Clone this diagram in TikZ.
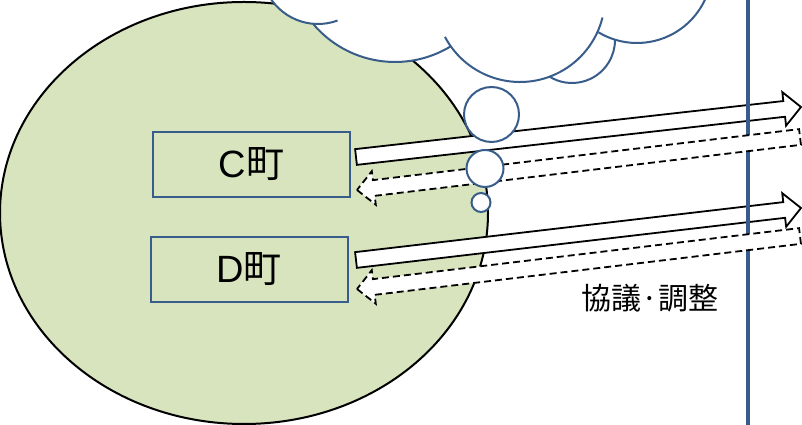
\documentclass[tikz,border=0pt]{standalone}
\usepackage{fontspec}
\setmainfont{Liberation Sans}
\newfontfamily\jpfont{Noto Sans CJK JP}
\usetikzlibrary{shapes.arrows,calc}

\definecolor{areagreen}{RGB}{215,228,189}
\definecolor{lineblue}{RGB}{56,93,138}

\newcommand{\blockarrow}[3][]{%
  \path let \p1=(#2), \p2=(#3), \n1={atan2(\y2-\y1,\x2-\x1)}, \n2={veclen(\x2-\x1,\y2-\y1)} in
    node [flow, #1, minimum height=\n2, rotate=\n1] at (\p1) {};}

\begin{document}
\begin{tikzpicture}[x=1pt, y=1pt,
  town/.style={draw=lineblue, line width=2pt, fill=areagreen, minimum width=197pt, minimum height=65pt, inner sep=0pt, font=\fontsize{38}{40}\selectfont},
  flow/.style={single arrow, draw=black, line width=1.8pt, fill=white, inner xsep=0pt, inner ysep=7pt, outer sep=0pt, single arrow head extend=9pt, single arrow tip angle=90, anchor=tail},
  reply/.style={dash pattern=on 7pt off 4pt},
  puff/.style={draw=lineblue, line width=2pt},
  bubble/.style={draw=lineblue, line width=2pt, fill=white}]
  \useasboundingbox (0,0) rectangle (802,425);
  \clip (0,0) rectangle (802,425);
  \filldraw [fill=areagreen, draw=black, line width=2pt] (244,212) ellipse [x radius=244, y radius=211];
  \node [town] (ctown) at (251.5,260.5) {C\jpfont 町};
  \node [town] (dtown) at (249,155.5) {D\jpfont 町};
  \fill [white] (318,458) circle [radius=57] (395,470) circle [radius=107] (520,428) circle [radius=85]
    (572,385) circle [radius=43] (637,457) circle [radius=75];
  \draw [puff] (318,458) ++(205:57) arc [start angle=205, end angle=290, radius=57];
  \draw [puff] (395,470) ++(220:107) arc [start angle=220, end angle=301.5, radius=107];
  \draw [puff] (520,428) ++(208:85) arc [start angle=208, end angle=346, radius=85];
  \draw [puff] (572,385) ++(238.5:43) arc [start angle=238.5, end angle=360, radius=43];
  \draw [puff] (637,457) ++(239:75) arc [start angle=239, end angle=340, radius=75];
  \coordinate (c-send) at (356,268);
  \coordinate (c-send-tip) at (801,318);
  \coordinate (c-back) at (800,288);
  \coordinate (c-back-tip) at (357,235);
  \coordinate (d-send) at (356,165);
  \coordinate (d-send-tip) at (801,217);
  \coordinate (d-back) at (800,189);
  \coordinate (d-back-tip) at (357,136);
  \blockarrow{c-send}{c-send-tip}
  \blockarrow{d-send}{d-send-tip}
  \draw [lineblue, line width=4pt] (748,0) -- (748,425);
  \blockarrow[reply]{c-back}{c-back-tip}
  \blockarrow[reply]{d-back}{d-back-tip}
  \node [bubble, circle, minimum size=55pt, inner sep=0pt] (think1) at (491.5,310.5) {};
  \node [bubble, circle, minimum size=37pt, inner sep=0pt] (think2) at (485,256.5) {};
  \node [bubble, circle, minimum size=19pt, inner sep=0pt] (think3) at (481,222.5) {};
  \node [font=\jpfont\fontsize{30}{32}\selectfont] (talk) at (650,127) {協議·調整};
\end{tikzpicture}
\end{document}
